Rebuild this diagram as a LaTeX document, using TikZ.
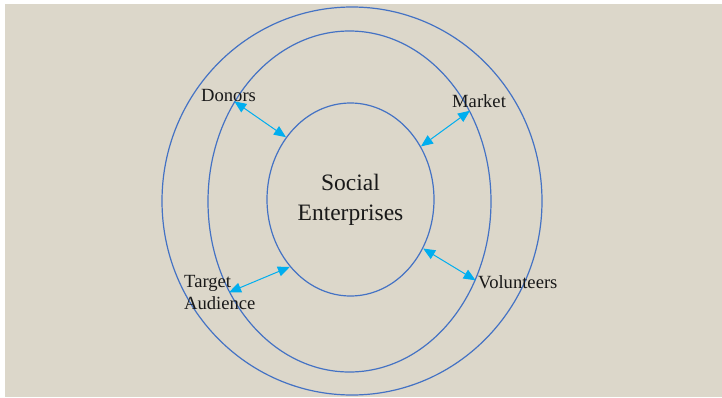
\documentclass[tikz,border=0pt]{standalone}
\usepackage{fontspec}
\setmainfont{Liberation Serif}
\usetikzlibrary{arrows.meta, shapes.geometric}

\definecolor{paper}{RGB}{220,215,202}
\definecolor{ringblue}{RGB}{68,114,196}
\definecolor{linkcyan}{RGB}{0,174,239}

\begin{document}
\begin{tikzpicture}[x=1pt, y=-1pt,
  ring/.style={ellipse, draw=ringblue, line width=1.2pt, inner sep=0pt},
  tag/.style={inner sep=0pt, font=\fontsize{18.6}{22}\selectfont, text=black!90},
  link/.style={{Triangle[length=12pt,width=10pt]}-{Triangle[length=12pt,width=10pt]},
    draw=linkcyan, line width=1pt}
]
% page with a thin white edge
\useasboundingbox (0,0) rectangle (722,397);
\fill[white] (0,0) rectangle (722,397);
\fill[paper] (5,4) rectangle (722,397);

% three rings
\node[ring, minimum width=380pt, minimum height=388pt] (outer) at (352,201) {};
\node[ring, minimum width=283pt, minimum height=341pt] (mid) at (349.5,201.5) {};
\node[ring, minimum width=167pt, minimum height=193pt, align=center,
  font=\fontsize{23.5}{30}\selectfont, text=black!90] (core) at (350.5,199.5)
  {Social\\Enterprises};

% stakeholders
\node[tag, anchor=base west] (donors) at (201,101) {Donors};
\node[tag, anchor=base west] (market) at (452,107) {Market};
\node[tag, anchor=west, align=left] (target) at (184,292.5) {Target\\Audience};
\node[tag, anchor=base west] (volunteers) at (478,288) {Volunteers};

% two-way links between the rings
\draw[link] (mid.139.5) -- (core.136.8);
\draw[link] (mid.37.9) -- (core.37.2);
\draw[link] (mid.217) -- (core.228.5);
\draw[link] (core.326) -- (mid.328);
\end{tikzpicture}
\end{document}
